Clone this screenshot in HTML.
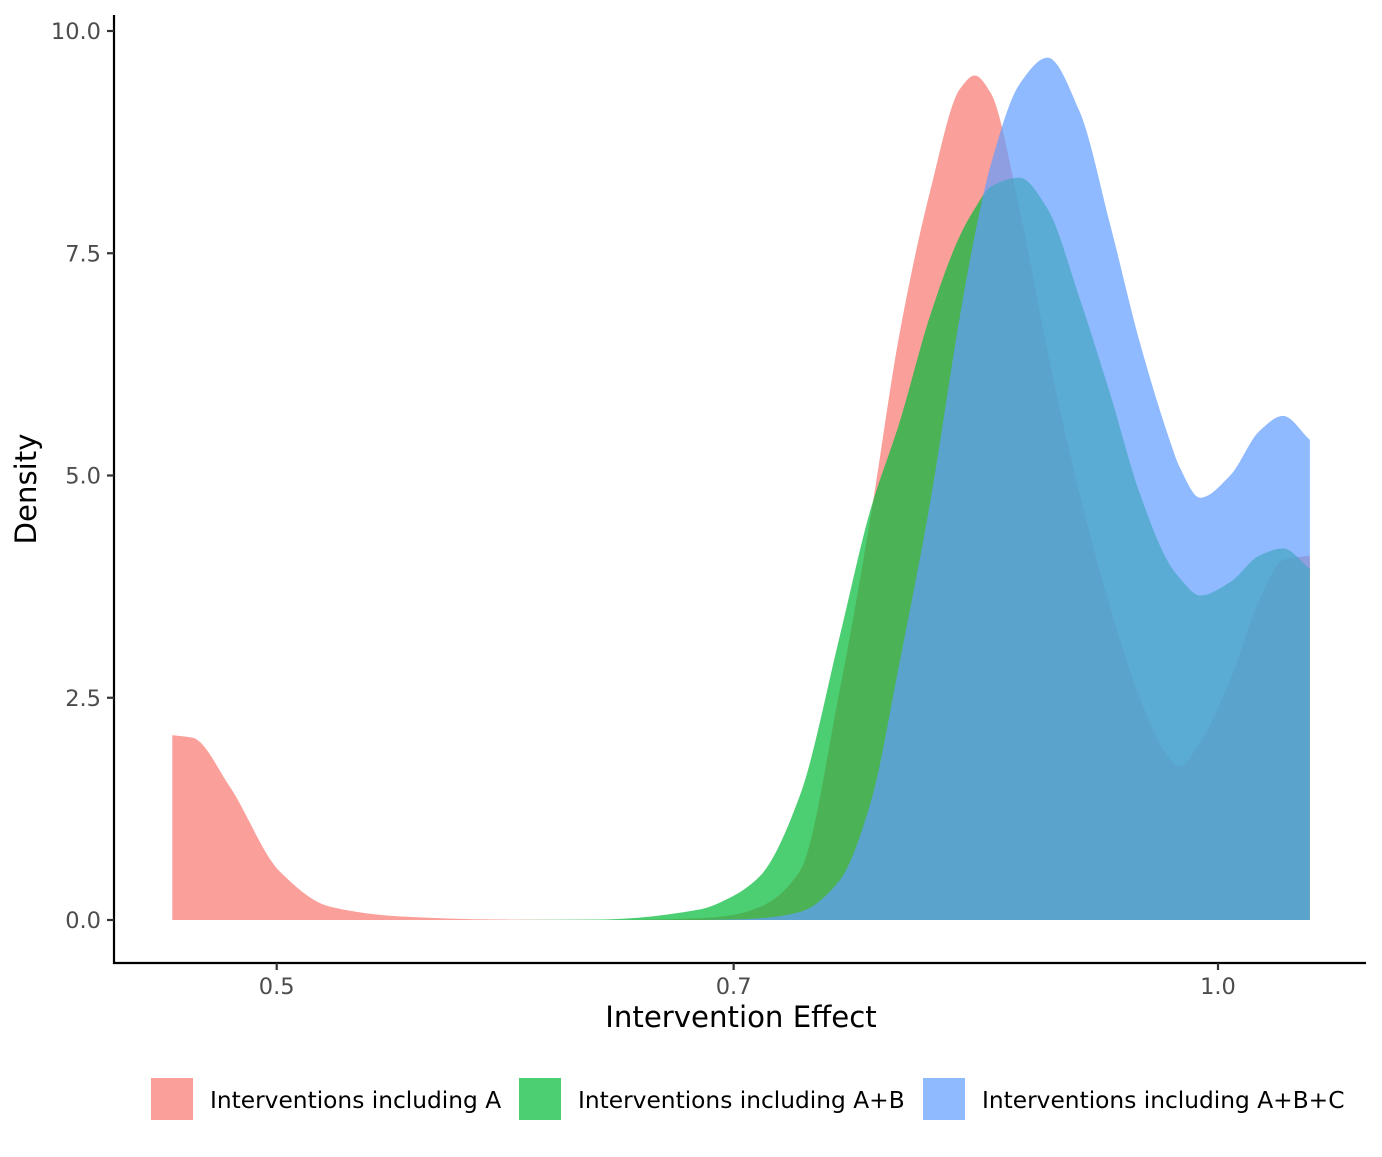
<!DOCTYPE html>
<html><head><meta charset="utf-8"><style>
body{margin:0;background:#fff;}
svg text{font-family:"DejaVu Sans","Liberation Sans",sans-serif;}
</style></head><body>
<svg id="chart" width="1382" height="1152" viewBox="0 0 1382 1152" xmlns="http://www.w3.org/2000/svg">
<g id="areas"></g>
<g id="axes"></g>
<g id="legend"></g>
</svg>
<script>
const xGrid = [0.463,0.470,0.483,0.501,0.520,0.548,0.589,0.634,0.683,0.698,0.714,0.735,0.757,0.774,0.791,0.809,0.827,0.836,0.846,0.864,0.882,0.903,0.924,0.944,0.965,0.972,0.987,1.009,1.031,1.049,1.070];
const densityA   = [2.08,2.05,1.5,0.55,0.15,0.04,0.005,0,0.02,0.05,0.15,0.55,2.6,4.5,6.6,8.2,9.35,9.5,9.3,8.0,6.4,4.8,3.5,2.5,1.82,1.73,2.0,2.7,3.6,4.05,4.1];
const densityAB  = [0,0,0,0,0,0,0,0.005,0.12,0.25,0.5,1.4,3.2,4.6,5.6,6.8,7.7,8.0,8.25,8.35,8.0,7.0,5.9,4.8,4.0,3.85,3.65,3.8,4.1,4.18,3.95];
const densityABC = [0,0,0,0,0,0,0,0,0,0.005,0.02,0.09,0.45,1.3,2.9,4.7,6.8,7.7,8.5,9.4,9.7,9.1,7.8,6.5,5.4,5.1,4.75,5.0,5.5,5.67,5.4];
const seriesNames = ["Interventions including A","Interventions including A+B","Interventions including A+B+C"];
const seriesColors = ["#F8766D","#00BA38","#619CFF"];
const xTicks = [0.5,0.7,1.0];
const xTickLabels = ["0.5","0.7","1.0"];
const yTicks = [0,2.5,5,7.5,10];
const yTickLabels = ["0.0","2.5","5.0","7.5","10.0"];

const NS="http://www.w3.org/2000/svg";
function xs(v){return 1218+Math.log(v)*1358;}
function ys(v){return 920-v*88.9;}
function mk(tag,attrs,parent){const e=document.createElementNS(NS,tag);for(const k in attrs)e.setAttribute(k,attrs[k]);parent.appendChild(e);return e;}

function monotonePath(pts){
  const n=pts.length,dx=[],s=[],m=[];
  for(let i=0;i<n-1;i++){dx[i]=pts[i+1][0]-pts[i][0];s[i]=(pts[i+1][1]-pts[i][1])/dx[i];}
  m[0]=s[0];m[n-1]=s[n-2];
  for(let i=1;i<n-1;i++){
    if(s[i-1]*s[i]<=0)m[i]=0;
    else{const w1=2*dx[i]+dx[i-1],w2=dx[i]+2*dx[i-1];m[i]=(w1+w2)/(w1/s[i-1]+w2/s[i]);}
  }
  let d='';
  for(let i=0;i<n-1;i++){
    const h=dx[i]/3;
    d+=` C${pts[i][0]+h},${pts[i][1]+m[i]*h} ${pts[i+1][0]-h},${pts[i+1][1]-m[i+1]*h} ${pts[i+1][0]},${pts[i+1][1]}`;
  }
  return d;
}

const areas=document.getElementById('areas');
[densityA,densityAB,densityABC].forEach((vals,si)=>{
  const pts=xGrid.map((x,i)=>[xs(x),ys(vals[i])]);
  let d=`M${pts[0][0]},920 L${pts[0][0]},${pts[0][1]}`+monotonePath(pts)+` L${pts[pts.length-1][0]},920 Z`;
  const p=mk('path',{d:d,fill:seriesColors[si],'fill-opacity':0.7},areas);
  
  
});

const axes=document.getElementById('axes');
let e;
e=mk('line',{x1:114,y1:15,x2:114,y2:964,stroke:'#000','stroke-width':2.2},axes);


e=mk('line',{x1:113,y1:963,x2:1366,y2:963,stroke:'#000','stroke-width':2.2},axes);


yTicks.forEach((v,i)=>{
  const t=mk('line',{x1:107,x2:114,y1:ys(v),y2:ys(v),stroke:'#333','stroke-width':2.2},axes);
  
  
  const l=mk('text',{x:101,y:ys(v)+8,'text-anchor':'end','font-size':22.5,fill:'#4d4d4d'},axes);
  l.textContent=yTickLabels[i];
  
  
});
xTicks.forEach((v,i)=>{
  const t=mk('line',{x1:xs(v),x2:xs(v),y1:963,y2:970,stroke:'#333','stroke-width':2.2},axes);
  
  
  const l=mk('text',{x:xs(v),y:994,'text-anchor':'middle','font-size':22.5,fill:'#4d4d4d'},axes);
  l.textContent=xTickLabels[i];
  
  
});
e=mk('text',{x:741,y:1027,'text-anchor':'middle','font-size':29.2,fill:'#000'},axes);
e.textContent='Intervention Effect';


e=mk('text',{x:36,y:489,'text-anchor':'middle','font-size':29.2,fill:'#000',transform:'rotate(-90 36 489)'},axes);
e.textContent='Density';



const legend=document.getElementById('legend');
const keyX=[151,519,923];
seriesNames.forEach((n,i)=>{
  const r=mk('rect',{x:keyX[i],y:1078,width:42,height:42,fill:seriesColors[i],'fill-opacity':0.7},legend);
  
  
  const t=mk('text',{x:keyX[i]+59,y:1108,'font-size':23.3,fill:'#000'},legend);
  t.textContent=n;
  
  
});
</script>
</body></html>
